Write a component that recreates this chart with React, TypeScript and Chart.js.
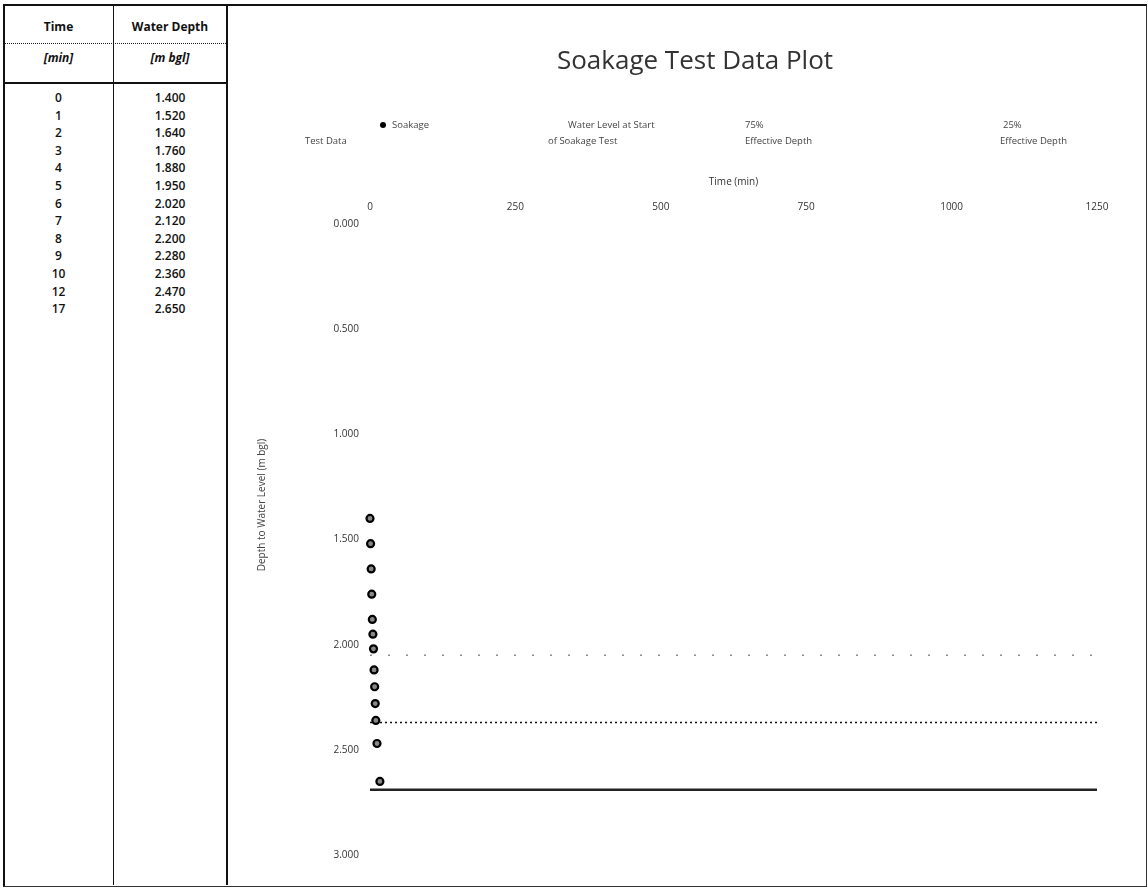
import React, { useEffect, useRef } from "react";
import { Chart, registerables } from "chart.js";
Chart.register(...registerables);

// ---- data ----
const timeMin = [0, 1, 2, 3, 4, 5, 6, 7, 8, 9, 10, 12, 17];
const waterDepth = [1.4, 1.52, 1.64, 1.76, 1.88, 1.95, 2.02, 2.12, 2.2, 2.28, 2.36, 2.47, 2.65];
const xTickValues = [0, 250, 500, 750, 1000, 1250];
const yTickValues = [0, 0.5, 1, 1.5, 2, 2.5, 3];
const levelSpanX = [0, 1250];
const level50 = [2.05, 2.05];
const level25 = [2.37, 2.37];
const pitBase = [2.69, 2.69];
const legendTexts = [
  ["Soakage", "Test Data"],
  ["Water Level at Start", "of Soakage Test"],
  ["75%", "Effective Depth"],
  ["25%", "Effective Depth"],
];
const chartTitle = "Soakage Test Data Plot";
const xTitle = "Time (min)";
const yTitle = "Depth to Water Level (m bgl)";
const tableHead = ["Time", "Water Depth"];
const tableUnits = ["[min]", "[m bgl]"];

const FONT = "'Open Sans', 'DejaVu Sans', sans-serif";

const legendPlugin = {
  id: "manualLegend",
  afterDraw(chart: any) {
    const ctx = chart.ctx;
    ctx.save();
    // title
    ctx.fillStyle = "#333";
    ctx.font = `26px ${FONT}`;
    ctx.textAlign = "center";
    ctx.textBaseline = "middle";
    ctx.fillText(chartTitle, 465, 55);
    // legend
    const pos = [
      { mx: 153, l1: 162, l2: 75 },
      { mx: -1, l1: 338, l2: 318 },
      { mx: -1, l1: 515, l2: 515 },
      { mx: -1, l1: 773, l2: 770 },
    ];
    ctx.font = `9.5px ${FONT}`;
    ctx.textAlign = "left";
    ctx.fillStyle = "#444";
    legendTexts.forEach((lines, i) => {
      const p = pos[i];
      if (p.mx >= 0) {
        ctx.beginPath();
        ctx.arc(p.mx, 118, 3, 0, Math.PI * 2);
        ctx.fillStyle = "#000";
        ctx.fill();
        ctx.fillStyle = "#444";
      }
      ctx.fillText(lines[0], p.l1, 118);
      ctx.fillText(lines[1], p.l2, 134);
    });
    // y axis title
    ctx.save();
    ctx.translate(32, 498);
    ctx.rotate(-Math.PI / 2);
    ctx.textAlign = "center";
    ctx.font = `10px ${FONT}`;
    ctx.fillStyle = "#444";
    ctx.fillText(yTitle, 0, 0);
    ctx.restore();
    ctx.restore();
  },
};

function ChartBox() {
  const ref = useRef<HTMLCanvasElement | null>(null);
  useEffect(() => {
    if (!ref.current) return;
    const pts = timeMin.map((t, i) => ({ x: t, y: waterDepth[i] }));
    const line = (ys: number[]) => levelSpanX.map((x, i) => ({ x, y: ys[i] }));
    const chart = new Chart(ref.current, {
      type: "scatter",
      data: {
        datasets: [
          {
            label: "Soakage Test Data",
            data: pts,
            pointRadius: 3.5,
            pointBackgroundColor: "#888",
            pointBorderColor: "#000",
            pointBorderWidth: 2.2,
            showLine: false,
            clip: false,
          },
          {
            label: "50% level",
            data: line(level50),
            showLine: true,
            pointRadius: 0,
            borderColor: "#555",
            borderWidth: 1,
            borderDash: [2, 16],
          },
          {
            label: "25% Effective Depth",
            data: line(level25),
            showLine: true,
            pointRadius: 0,
            borderColor: "#111",
            borderWidth: 1.5,
            borderDash: [2, 3],
          },
          {
            label: "Pit base",
            data: line(pitBase),
            showLine: true,
            pointRadius: 0,
            borderColor: "#222",
            borderWidth: 2.5,
          },
        ],
      },
      options: {
        animation: false,
        responsive: false,
        maintainAspectRatio: false,
        layout: { padding: { top: 150, right: 47, bottom: 29, left: 0 } },
        plugins: { legend: { display: false }, title: { display: false }, tooltip: { enabled: false } },
        scales: {
          x: {
            type: "linear",
            position: "top",
            min: 0,
            max: 1250,
            afterFit: (s: any) => { s.height = 67; },
            afterBuildTicks: (s: any) => { s.ticks = xTickValues.map((v) => ({ value: v })); },
            grid: { display: false, drawTicks: true, tickLength: 8 },
            border: { display: false },
            ticks: { color: "#333", font: { family: FONT, size: 10 }, maxRotation: 0, callback: (v: any) => String(v) },
            title: { display: true, text: xTitle, color: "#333", font: { family: FONT, size: 10 }, padding: { top: 19, bottom: 0 } },
          },
          y: {
            type: "linear",
            reverse: true,
            min: 0,
            max: 3,
            afterFit: (s: any) => { s.width = 140; },
            afterBuildTicks: (s: any) => { s.ticks = yTickValues.map((v) => ({ value: v })); },
            grid: { display: false, drawTicks: true, tickLength: 8 },
            border: { display: false },
            ticks: { color: "#333", font: { family: FONT, size: 10 }, callback: (v: any) => Number(v).toFixed(3) },
            title: { display: false },
          },
        },
      },
      plugins: [legendPlugin],
    } as any);
    return () => chart.destroy();
  }, []);
  return <canvas ref={ref} width={914} height={877} style={{ display: "block", width: 914, height: 877 }} />;
}

export default function App() {
  const rowTop = 89;
  const rowH = 17.6;
  return (
    <div style={{ position: "fixed", left: 0, top: 0, width: 1148, height: 888, background: "#fff", fontFamily: FONT, color: "#111", overflow: "hidden" }}>
      {/* outer frame */}
      <div style={{ position: "absolute", left: 3, top: 4, width: 1141, height: 880, borderTop: "2px solid #111", borderLeft: "2px solid #111", borderRight: "1.5px solid #333", borderBottom: "1.5px solid #333" }} />
      {/* table lines */}
      <div style={{ position: "absolute", left: 113, top: 5, width: 0, height: 880, borderLeft: "1.5px solid #111" }} />
      <div style={{ position: "absolute", left: 226, top: 5, width: 0, height: 880, borderLeft: "2px solid #111" }} />
      <div style={{ position: "absolute", left: 4, top: 43, width: 222, height: 0, borderTop: "1.5px dotted #222" }} />
      <div style={{ position: "absolute", left: 4, top: 82, width: 222, height: 0, borderTop: "2px solid #111" }} />
      {tableHead.map((h, i) => (
        <div key={"h" + i} style={{ position: "absolute", left: i === 0 ? 4 : 114, width: i === 0 ? 109 : 112, top: 18, textAlign: "center", fontSize: 12, fontWeight: 700 }}>{h}</div>
      ))}
      {tableUnits.map((h, i) => (
        <div key={"u" + i} style={{ position: "absolute", left: i === 0 ? 4 : 114, width: i === 0 ? 109 : 112, top: 49, textAlign: "center", fontSize: 12, fontWeight: 700, fontStyle: "italic" }}>{h}</div>
      ))}
      {timeMin.map((t, i) => (
        <React.Fragment key={"r" + i}>
          <div style={{ position: "absolute", left: 4, width: 109, top: rowTop + i * rowH, textAlign: "center", fontSize: 12, fontWeight: 600 }}>{t}</div>
          <div style={{ position: "absolute", left: 114, width: 112, top: rowTop + i * rowH, textAlign: "center", fontSize: 12, fontWeight: 600 }}>{waterDepth[i].toFixed(3)}</div>
        </React.Fragment>
      ))}
      <div style={{ position: "absolute", left: 230, top: 7 }}>
        <ChartBox />
      </div>
    </div>
  );
}
